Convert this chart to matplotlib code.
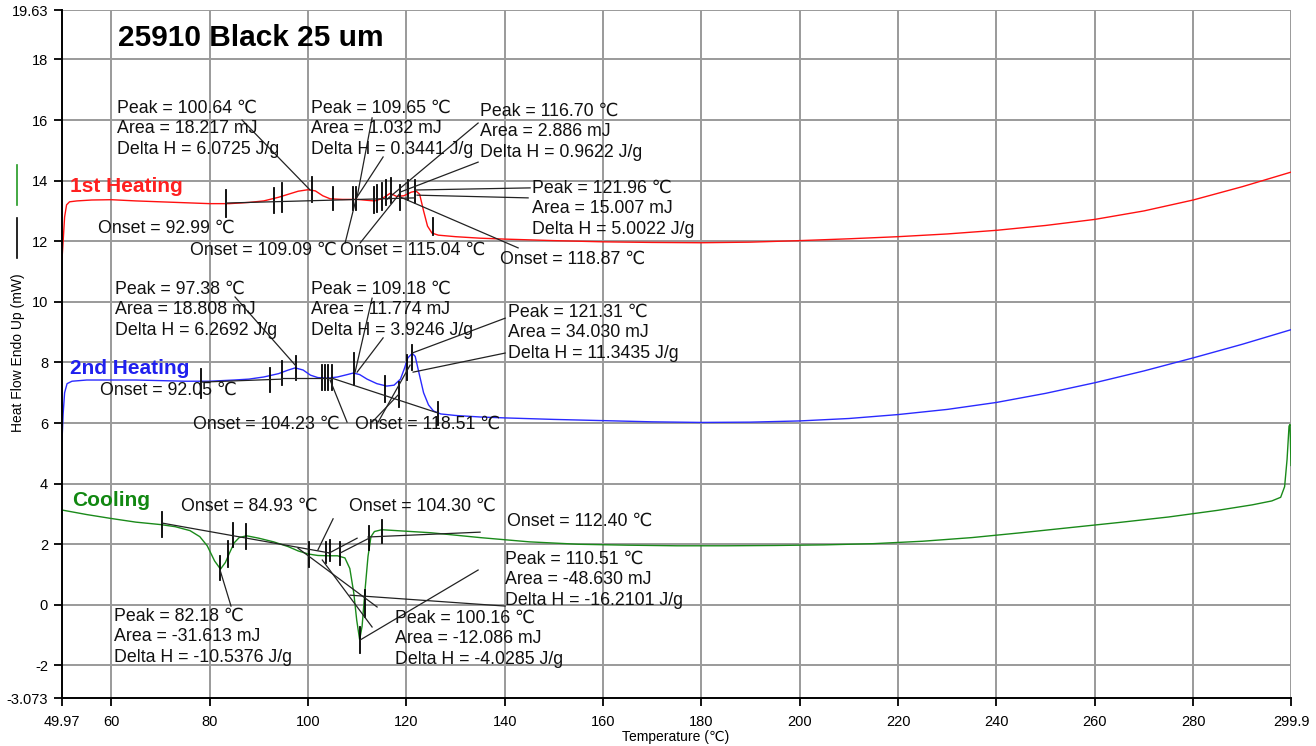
import numpy as np
import matplotlib
matplotlib.use("Agg")
import matplotlib.pyplot as plt
from matplotlib.lines import Line2D

plt.rcParams['font.family'] = ['Liberation Sans', 'DejaVu Sans']

# ---- curves (Temperature C, Heat flow mW) ----
heat1_T = [49.97, 50.2, 50.5, 50.9, 51.5, 53, 56, 60, 65, 70, 75, 80, 84, 88, 91, 94, 96, 98, 100,
           101.5, 103, 104.5, 107, 110, 112, 113.5, 115, 116.7, 118, 119.5, 121, 122, 122.7, 123.5,
           124.3, 125.2, 126.5, 130, 135, 140, 150, 160, 170, 180, 190, 200, 210, 220, 230, 240,
           250, 260, 270, 280, 290, 299.9]
heat1_H = [11.4, 12.0, 12.8, 13.2, 13.3, 13.33, 13.36, 13.37, 13.33, 13.3, 13.27, 13.24, 13.24,
           13.28, 13.33, 13.45, 13.55, 13.65, 13.7, 13.66, 13.5, 13.4, 13.38, 13.38, 13.35, 13.33,
           13.4, 13.58, 13.48, 13.5, 13.62, 13.65, 13.55, 13.0, 12.5, 12.27, 12.2, 12.15, 12.1,
           12.07, 12.02, 11.98, 11.96, 11.95, 11.97, 12.02, 12.08, 12.15, 12.24, 12.36, 12.52,
           12.72, 13.0, 13.36, 13.8, 14.28]

heat2_T = [49.97, 50.2, 50.5, 51, 52, 55, 60, 65, 70, 75, 80, 85, 88, 91, 94, 96, 97.4, 99, 100.5,
           102, 104, 106, 108, 109.2, 110.5, 112, 114, 116, 117.5, 118.8, 119.6, 120.3, 121.2,
           121.8, 122.5, 123.5, 124.5, 125.5, 127, 130, 135, 140, 150, 160, 170, 180, 190, 200,
           210, 220, 230, 240, 250, 260, 270, 280, 290, 299.9]
heat2_H = [5.4, 6.3, 7.0, 7.3, 7.38, 7.42, 7.42, 7.42, 7.4, 7.38, 7.38, 7.42, 7.45, 7.52, 7.63,
           7.75, 7.82, 7.75, 7.58, 7.5, 7.48, 7.52, 7.6, 7.65, 7.6, 7.45, 7.3, 7.22, 7.25, 7.45,
           7.8, 8.15, 8.3, 8.2, 7.7, 7.0, 6.6, 6.4, 6.3, 6.25, 6.2, 6.17, 6.12, 6.08, 6.04, 6.02,
           6.03, 6.07, 6.15, 6.28, 6.45, 6.68, 6.98, 7.33, 7.72, 8.15, 8.6, 9.08]

cool_T = [49.97, 55, 60, 65, 70, 73, 76, 78, 79.5, 81, 82.2, 83.2, 84, 85, 86, 87.5, 90, 93, 96,
          98, 100, 102, 104, 106, 107.5, 108.5, 109.3, 109.9, 110.5, 111, 111.6, 112.2, 112.8,
          113.5, 115, 118, 125, 135, 145, 155, 165, 175, 185, 195, 205, 215, 225, 235, 245, 255,
          265, 275, 285, 292, 296, 297.8, 298.6, 299.1, 299.5, 299.7, 299.9]
cool_H = [3.13, 2.98, 2.85, 2.73, 2.65, 2.58, 2.45, 2.25, 1.95, 1.45, 1.18, 1.4, 1.7, 2.05, 2.22,
          2.28, 2.2, 2.08, 1.92, 1.78, 1.68, 1.63, 1.62, 1.62, 1.55, 1.2, 0.4, -0.5, -1.15, -0.7,
          0.5, 1.6, 2.25, 2.42, 2.48, 2.45, 2.38, 2.22, 2.08, 2.0, 1.97, 1.95, 1.95, 1.96, 1.98,
          2.02, 2.1, 2.22, 2.38, 2.55, 2.72, 2.9, 3.12, 3.3, 3.43, 3.55, 3.9, 4.8, 5.9, 5.95, 4.6]

# ---- analysis marks: (T, low, high) ----
heat1_ticks = [(83.33, 12.80, 13.69), (93.10, 12.93, 13.76), (94.72, 12.96, 13.92),
               (100.82, 13.29, 14.12), (105.10, 13.03, 13.79), (109.16, 13.03, 13.79),
               (109.77, 13.03, 13.79), (113.44, 12.93, 13.79), (114.05, 12.96, 13.85),
               (115.06, 13.03, 13.92), (115.88, 13.19, 14.02), (116.89, 13.26, 14.09),
               (118.73, 13.03, 13.85), (120.35, 13.36, 14.02), (121.78, 13.26, 14.02),
               (125.44, 12.20, 12.77)]
heat1_lines = [((83.33, 13.26), (121.78, 13.43)),
               ((121.78, 13.69), (145.17, 13.76)), ((122.18, 13.52), (144.76, 13.43)),
               ((115.88, 13.36), (134.59, 15.90)), ((118.73, 13.62), (134.59, 14.61)),
               ((118.73, 13.46), (142.73, 11.78)),
               ((109.98, 13.46), (113.03, 16.07)), ((109.98, 13.46), (115.27, 14.78)),
               ((109.77, 13.39), (107.54, 11.94)), ((118.73, 13.59), (110.59, 11.94)),
               ((100.42, 13.69), (86.58, 16.00))]

heat2_ticks = [(78.25, 6.83, 7.78), (92.28, 7.02, 7.81), (94.72, 7.25, 8.05),
               (97.57, 7.42, 8.21), (102.86, 7.09, 7.91), (103.47, 7.09, 7.91),
               (104.08, 7.09, 7.91), (104.89, 7.09, 7.91), (109.37, 7.25, 8.31),
               (115.67, 6.69, 7.55), (118.52, 6.53, 7.35), (120.15, 7.42, 8.24),
               (121.17, 7.75, 8.57), (126.46, 5.93, 6.69)]
heat2_lines = [((78.25, 7.35), (94.72, 7.45)), ((94.72, 7.48), (104.89, 7.48)),
               ((104.89, 7.48), (126.46, 6.33)),
               ((97.57, 7.88), (85.16, 10.16)),
               ((109.57, 7.68), (113.03, 10.12)), ((109.98, 7.68), (115.27, 8.81)),
               ((104.49, 7.42), (107.94, 6.03)),
               ((118.52, 6.96), (113.03, 6.03)), ((120.76, 7.91), (114.25, 6.03)),
               ((121.17, 8.31), (140.09, 9.46)), ((121.37, 7.68), (140.09, 8.31))]

cool_ticks = [(70.31, 2.24, 3.06), (82.11, 0.82, 1.61), (83.74, 1.25, 2.11), (84.75, 1.91, 2.70),
              (87.40, 1.84, 2.67), (100.21, 1.25, 2.07), (103.67, 1.38, 2.07),
              (104.49, 1.44, 2.14), (106.52, 1.31, 2.07), (110.59, -1.59, -0.73),
              (111.61, -0.40, 0.49), (112.42, 1.81, 2.60), (115.06, 2.04, 2.80)]
cool_lines = [((70.31, 2.70), (104.49, 1.71)),
              ((97.97, 1.87), (114.05, -0.07)), ((102.9, 1.48), (113.03, -0.73)),
              ((108.55, 0.32), (140.09, -0.04)),
              ((110.59, -1.16), (134.59, 1.15)),
              ((102.0, 1.81), (105.1, 2.84)),
              ((104.29, 1.71), (109.98, 2.20)), ((112.21, 2.24), (135.0, 2.40)),
              ((106.52, 1.71), (112.42, 2.20)),
              ((82.11, 1.15), (84.34, -0.04))]

# ---- labels (left T, first line H, lines) ----
labels = [
    (61.16, 16.40, ["Peak = 100.64 ℃", "Area = 18.217 mJ", "Delta H = 6.0725 J/g"]),
    (100.62, 16.40, ["Peak = 109.65 ℃", "Area = 1.032 mJ", "Delta H = 0.3441 J/g"]),
    (135.00, 16.30, ["Peak = 116.70 ℃", "Area = 2.886 mJ", "Delta H = 0.9622 J/g"]),
    (145.57, 13.76, ["Peak = 121.96 ℃", "Area = 15.007 mJ", "Delta H = 5.0022 J/g"]),
    (57.29, 12.44, ["Onset = 92.99 ℃"]),
    (76.01, 11.71, ["Onset = 109.09 ℃"]),
    (106.52, 11.71, ["Onset = 115.04 ℃"]),
    (139.07, 11.41, ["Onset = 118.87 ℃"]),
    (60.75, 10.42, ["Peak = 97.38 ℃", "Area = 18.808 mJ", "Delta H = 6.2692 J/g"]),
    (100.62, 10.42, ["Peak = 109.18 ℃", "Area = 11.774 mJ", "Delta H = 3.9246 J/g"]),
    (140.69, 9.66, ["Peak = 121.31 ℃", "Area = 34.030 mJ", "Delta H = 11.3435 J/g"]),
    (57.70, 7.09, ["Onset = 92.05 ℃"]),
    (76.62, 5.97, ["Onset = 104.23 ℃"]),
    (109.57, 5.97, ["Onset = 118.51 ℃"]),
    (74.18, 3.26, ["Onset = 84.93 ℃"]),
    (108.35, 3.26, ["Onset = 104.30 ℃"]),
    (140.49, 2.77, ["Onset = 112.40 ℃"]),
    (140.09, 1.51, ["Peak = 110.51 ℃", "Area = -48.630 mJ", "Delta H = -16.2101 J/g"]),
    (60.55, -0.37, ["Peak = 82.18 ℃", "Area = -31.613 mJ", "Delta H = -10.5376 J/g"]),
    (117.71, -0.44, ["Peak = 100.16 ℃", "Area = -12.086 mJ", "Delta H = -4.0285 J/g"]),
]

xticks = [49.97, 60, 80, 100, 120, 140, 160, 180, 200, 220, 240, 260, 280, 299.9]
yticks = [-3.073, -2, 0, 2, 4, 6, 8, 10, 12, 14, 16, 18, 19.63]

fig = plt.figure(figsize=(13.16, 7.46), dpi=100)
ax = fig.add_axes([62 / 1316, 1 - 698 / 746, 1229 / 1316, 688 / 746])
ax.set_xlim(49.97, 299.9)
ax.set_ylim(-3.073, 19.63)

gc = '#9a9a9a'
for t in xticks[1:]:
    ax.axvline(t, color=gc, lw=1.4, zorder=0)
for h in yticks[1:]:
    ax.axhline(h, color=gc, lw=1.4, zorder=0)

ax.set_xticks(xticks)
ax.set_xticklabels(['49.97', '60', '80', '100', '120', '140', '160', '180', '200', '220',
                    '240', '260', '280', '299.9'])
ax.set_yticks(yticks)
ax.set_yticklabels(['-3.073', '-2', '0', '2', '4', '6', '8', '10', '12', '14', '16', '18', '19.63'])
ax.tick_params(direction='out', length=6, width=1.3, labelsize=10.5, pad=4, colors='black')
ax.tick_params(axis='x', pad=6)
for s in ['top', 'right']:
    ax.spines[s].set_visible(False)
ax.spines['left'].set_linewidth(1.4)
ax.spines['bottom'].set_linewidth(1.4)

ax.plot(heat1_T, heat1_H, color='#ff1010', lw=1.0, zorder=2)
ax.plot(heat2_T, heat2_H, color='#2a2aff', lw=1.0, zorder=2)
ax.plot(cool_T, cool_H, color='#1a8a1a', lw=1.0, zorder=2)

for ticks, lines in [(heat1_ticks, heat1_lines), (heat2_ticks, heat2_lines), (cool_ticks, cool_lines)]:
    for t, lo, hi in ticks:
        ax.plot([t, t], [lo, hi], color='black', lw=1.3, zorder=3)
    for (t1, h1), (t2, h2) in lines:
        ax.plot([t1, t2], [h1, h2], color='#222222', lw=0.9, zorder=3)

for t, h, lines in labels:
    for i, s in enumerate(lines):
        ax.text(t, h - i * 0.68, s, fontsize=12.8, va='center', ha='left', color='#111111', zorder=4)

ax.text(61.36, 18.71, "25910 Black 25 um", fontsize=21.5, fontweight='bold', va='center', ha='left')
ax.text(51.6, 13.82, "1st Heating", fontsize=15, fontweight='bold', color='#ff2020', va='center')
ax.text(51.6, 7.81, "2nd Heating", fontsize=15, fontweight='bold', color='#2020ee', va='center')
ax.text(52.0, 3.46, "Cooling", fontsize=15, fontweight='bold', color='#118811', va='center')

fig.add_artist(Line2D([17 / 1316] * 2, [1 - 165 / 746, 1 - 205 / 746], color='#229922', lw=1.2))
fig.add_artist(Line2D([17 / 1316] * 2, [1 - 218 / 746, 1 - 258 / 746], color='black', lw=1.2))
fig.text(18 / 1316, 1 - 353 / 746, "Heat Flow Endo Up (mW)", rotation=90, fontsize=10,
         va='center', ha='center')
fig.text(676 / 1316, 1 - 737 / 746, "Temperature (℃)", fontsize=10, va='center', ha='center')

fig.savefig('out.png', dpi=100)
